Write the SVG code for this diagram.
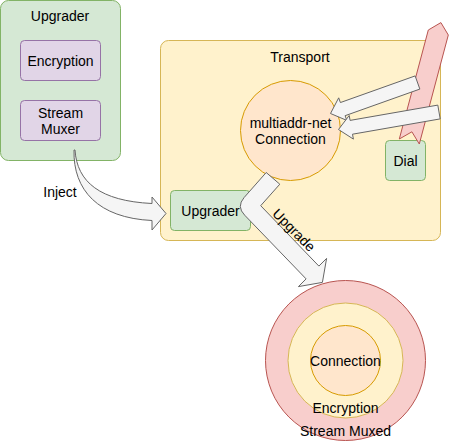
<svg xmlns="http://www.w3.org/2000/svg" width="452" height="441" viewBox="0 0 452 441">
<style>
text{font-family:"Liberation Sans",Arial,Helvetica,sans-serif;font-size:14px;fill:#000;text-anchor:middle}
.green{fill:#d5e8d4;stroke:#82b366}
.purple{fill:#e1d5e7;stroke:#9673a6}
.yellow{fill:#fff2cc;stroke:#d6b656}
.orange{fill:#ffe6cc;stroke:#d79b00}
.red{fill:#f8cecc;stroke:#b85450}
.grey{fill:#f5f5f5;stroke:#666666;stroke-linejoin:miter}
</style>
<rect width="452" height="441" fill="#ffffff"/>
<g id="upgrader-outer">
<rect class="green" x="0.5" y="0.5" width="120" height="160" rx="8"/>
<text x="60" y="21">Upgrader</text>
</g>
<g id="encryption-box">
<rect class="purple" x="20.5" y="40.5" width="80" height="40" rx="4"/>
<text x="60.5" y="65.5">Encryption</text>
</g>
<g id="stream-muxer-box">
<rect class="purple" x="20.5" y="100.5" width="80" height="40" rx="4"/>
<text x="60.5" y="118">Stream</text>
<text x="60.5" y="134">Muxer</text>
</g>
<g id="transport">
<rect class="yellow" x="160.5" y="40.5" width="280" height="200" rx="8"/>
<text x="300" y="62">Transport</text>
</g>
<g id="multiaddr-connection">
<circle class="orange" cx="290.5" cy="130.5" r="50"/>
<text x="290.5" y="128">multiaddr-net</text>
<text x="290.5" y="144">Connection</text>
</g>
<g id="dial">
<rect class="green" x="385.5" y="140.5" width="40" height="40" rx="4"/>
<text x="405.5" y="165.5">Dial</text>
</g>
<g id="upgrader-inner">
<rect class="green" x="170.5" y="190.5" width="80" height="40" rx="4"/>
<text x="210.5" y="215.5">Upgrader</text>
</g>
<g id="stream-muxed">
<circle class="red" cx="345.5" cy="360.5" r="80"/>
</g>
<g id="encryption-ring">
<circle class="yellow" cx="345.5" cy="360.5" r="57.5"/>
</g>
<g id="connection-core">
<circle class="orange" cx="345.5" cy="360.5" r="35"/>
<text x="345.5" y="366">Connection</text>
<text x="345.5" y="413">Encryption</text>
<text x="345.5" y="436">Stream Muxed</text>
</g>
<g id="connectors">
<path class="red" d="M440.9,22.6 L448.3,35 L419.3,144 L411.9,131.8 L399.3,139 L428.3,30 Z"/>
<path class="grey" d="M415.15,75.91 L340.4,102.55 L338.7,97.84 L330.5,113.5 L346.8,120.4 L345.1,115.7 L419.85,89.09 Z"/>
<path class="grey" d="M437.8,105.1 L350.1,120.4 L349.2,115.5 L338.5,129.5 L353.4,139.1 L352.5,134.2 L440.2,118.9 Z"/>
<path class="grey" d="M75,150 C77,182 100,201 152,203.5 L152,197 L166,213.5 L152,230 L152,220.5 C98,218 73,190 74,150 Z"/>
<path class="grey" d="M266.2,172.5 L279.8,184.2 L260.7,205.7 L318.9,266.1 L326.6,258.4 L322.4,282.4 L298.4,286.6 L306.1,278.9 L244.7,215.2 Q236.25,206.7 244.05,197.6 Z"/>
<text x="60" y="197">Inject</text>
<text transform="translate(294,230) rotate(45)" x="0" y="5">Upgrade</text>
</g>
</svg>
